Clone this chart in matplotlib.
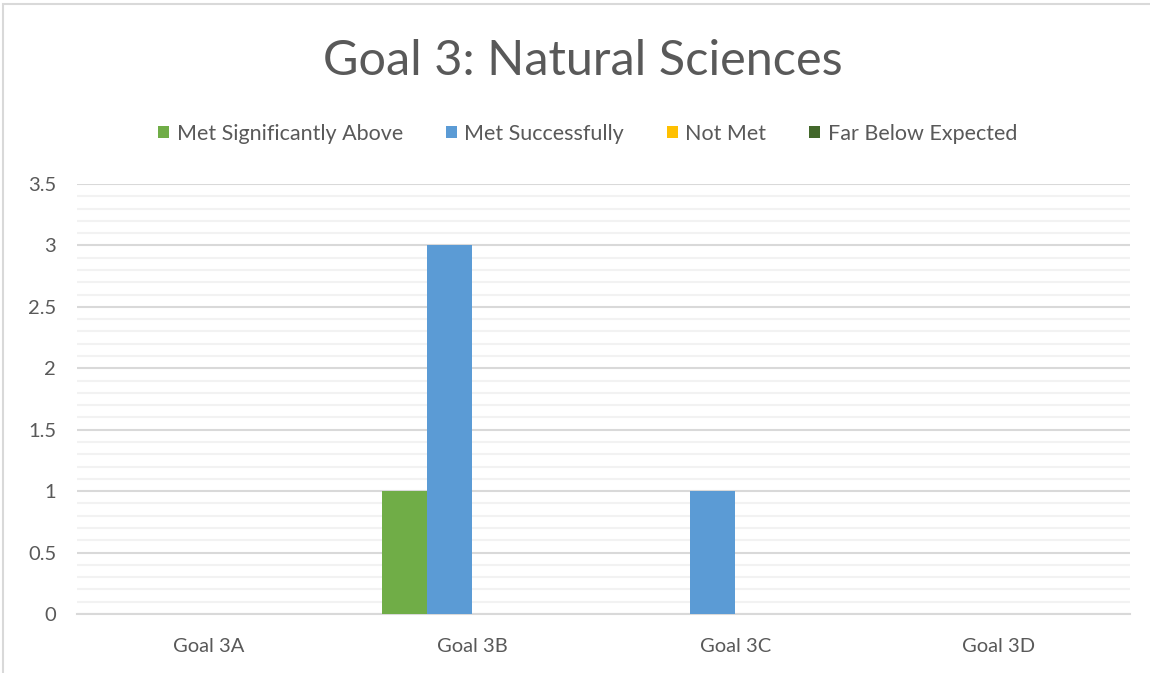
import numpy as np
import matplotlib.pyplot as plt
from matplotlib.patches import Rectangle
from matplotlib.ticker import MultipleLocator

plt.rcParams['font.family'] = ['Lato', 'DejaVu Sans']

goals = ['Goal 3A', 'Goal 3B', 'Goal 3C', 'Goal 3D']
series = ['Met Significantly Above', 'Met Successfully', 'Not Met', 'Far Below Expected']
met_above = [0, 1, 0, 0]
met_ok = [0, 3, 1, 0]
not_met = [0, 0, 0, 0]
far_below = [0, 0, 0, 0]
colors = ['#70AD47', '#5B9BD5', '#FFC000', '#43682B']

txt = '#595959'

fig = plt.figure(figsize=(11.5, 6.73), dpi=100)
ax = fig.add_axes([0.067, 0.0877, 0.916, 0.639])

x = np.arange(len(goals))
w = 0.171
for i, (vals, c, name) in enumerate(zip([met_above, met_ok, not_met, far_below], colors, series)):
    ax.bar(x + (i - 1.5) * w, vals, w, color=c, label=name, zorder=3)

ax.set_xlim(-0.5, len(goals) - 0.5)
ax.set_ylim(0, 3.5)
ax.yaxis.set_minor_locator(MultipleLocator(0.1))
ax.set_yticks([0, 0.5, 1, 1.5, 2, 2.5, 3, 3.5])
ax.set_yticklabels(['0', '0.5', '1', '1.5', '2', '2.5', '3', '3.5'])
ax.set_xticks(x)
ax.set_xticklabels(goals)
ax.grid(axis='y', which='major', color='#d9d9d9', lw=1.5, zorder=0)
ax.grid(axis='y', which='minor', color='#f2f2f2', lw=1.5, zorder=0)
ax.tick_params(axis='both', which='both', length=0, colors=txt, labelsize=14.5)
ax.tick_params(axis='x', pad=17)
ax.tick_params(axis='y', pad=15)
for s in ['top', 'right', 'left']:
    ax.spines[s].set_visible(False)
ax.spines['bottom'].set_color('#d9d9d9')
ax.spines['bottom'].set_linewidth(1.5)

fig.text(0.507, 0.91, 'Goal 3: Natural Sciences', ha='center', va='center',
         fontsize=35, color=txt)
fig.legend(loc='center', bbox_to_anchor=(0.511, 0.801), ncol=4, frameon=False,
           fontsize=15.5, labelcolor=txt, handlelength=0.5, handleheight=0.5,
           handletextpad=0.35, columnspacing=2.0)

fig.patches.append(Rectangle((3 / 1150, -0.1), 1.2, 1 - 4 / 673 + 0.1,
                             transform=fig.transFigure, fill=False,
                             edgecolor='#d9d9d9', lw=1.5))

fig.savefig('out.png', dpi=100)
